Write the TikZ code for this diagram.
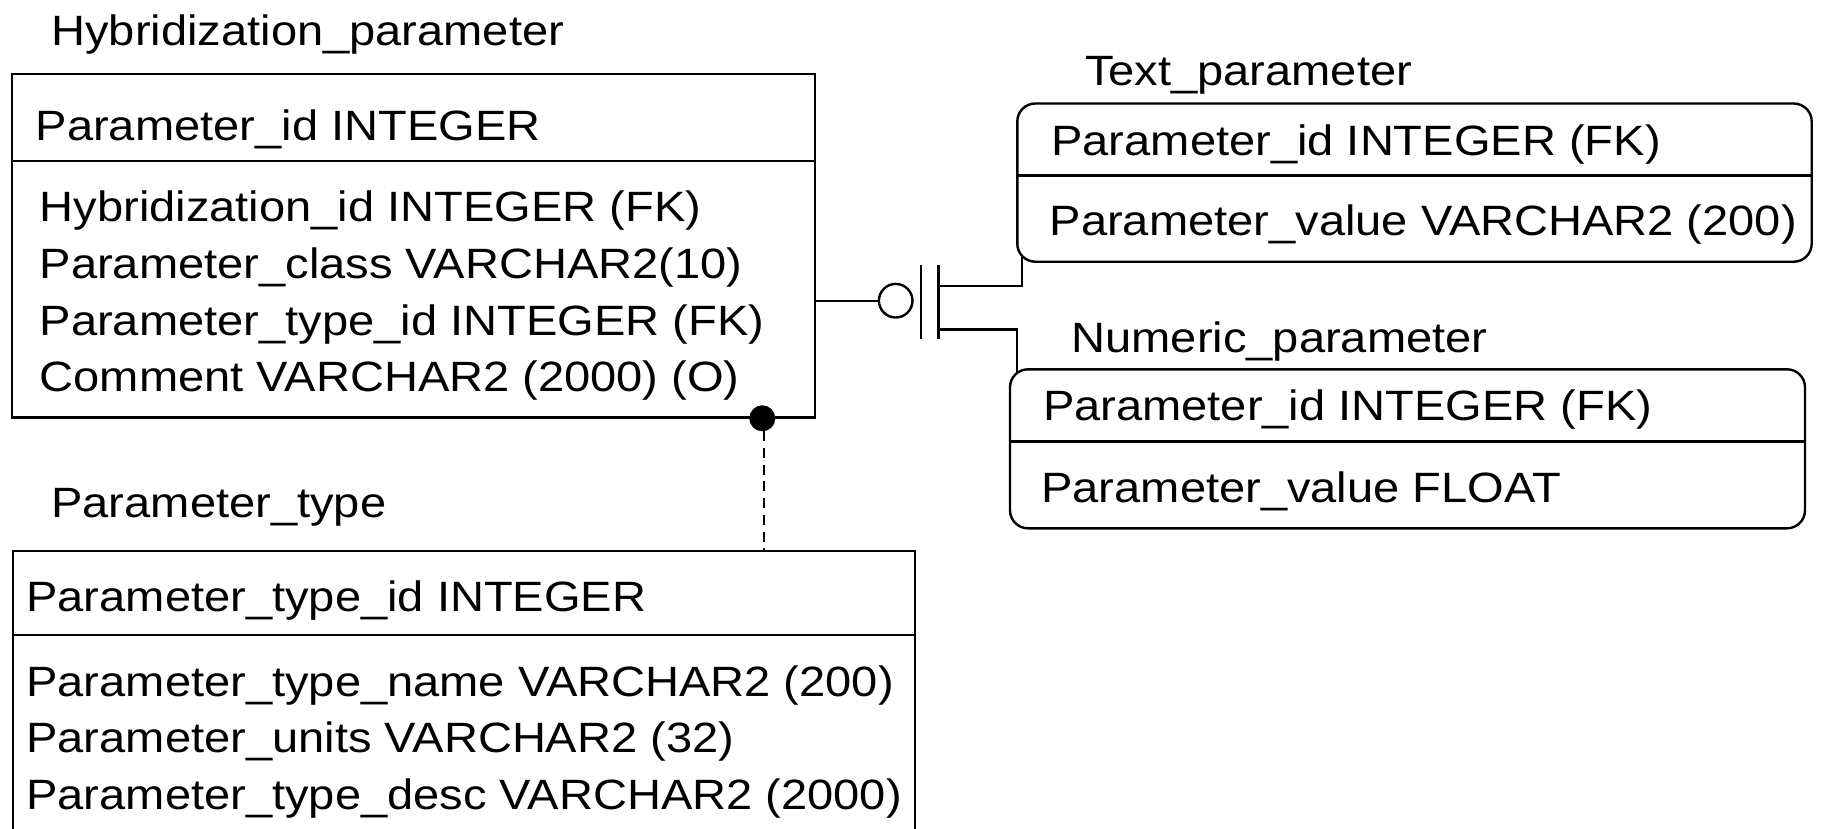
\documentclass[tikz,border=0pt]{standalone}
\usepackage{fontspec}
\setmainfont[FakeStretch=1.11]{Liberation Sans}
\begin{document}
\begin{tikzpicture}[x=1pt,y=-1pt,
  every node/.style={inner sep=0pt,outer sep=0pt},
  lbl/.style={anchor=base west,font=\fontsize{42.4}{50}\selectfont},
  entbox/.style={draw,line width=2.4pt,rectangle,anchor=north west},
  roundbox/.style={entbox,rounded corners=18pt},
  conn/.style={line width=2.4pt},
  dashconn/.style={line width=2.4pt,dash pattern=on 10pt off 6.7pt}]
\useasboundingbox (0,0) rectangle (1821,828);
\clip (0,0) rectangle (1821,828);
% Hybridization_parameter
\node[entbox,minimum width=803.3pt,minimum height=343.5pt] (hyb) at (11.7,74) {};
\draw[conn] (hyb.west |- 0,161) -- (hyb.east |- 0,161);
\node[lbl] (hybt) at (51.4,45) {Hybridization\_parameter};
\node[lbl] (hyb0) at (35.7,140) {Parameter\_id INTEGER};
\node[lbl] (hyb1) at (39.7,221.7) {Hybridization\_id INTEGER (FK)};
\node[lbl] (hyb2) at (39.7,278.3) {Parameter\_class VARCHAR2(10)};
\node[lbl] (hyb3) at (39.7,335) {Parameter\_type\_id INTEGER (FK)};
\node[lbl] (hyb4) at (39.7,391.7) {Comment VARCHAR2 (2000) (O)};
% Parameter_type
\node[entbox,minimum width=902.3pt,minimum height=400pt] (pt) at (12.7,550.7) {};
\draw[conn] (pt.west |- 0,635) -- (pt.east |- 0,635);
\node[lbl] (ptt) at (51.4,517.3) {Parameter\_type};
\node[lbl] (pt0) at (26.4,611) {Parameter\_type\_id INTEGER};
\node[lbl] (pt1) at (26.4,696) {Parameter\_type\_name VARCHAR2 (200)};
\node[lbl] (pt2) at (26.4,752.5) {Parameter\_units VARCHAR2 (32)};
\node[lbl] (pt3) at (26.4,809) {Parameter\_type\_desc VARCHAR2 (2000)};
% Text_parameter
\node[roundbox,minimum width=794.4pt,minimum height=158.2pt] (txt) at (1017.3,103.5) {};
\draw[conn] (txt.west |- 0,175.5) -- (txt.east |- 0,175.5);
\node[lbl] (txtt) at (1085,85) {Text\_parameter};
\node[lbl] (txt0) at (1051.4,155) {Parameter\_id INTEGER (FK)};
\node[lbl] (txt1) at (1049.7,235) {Parameter\_value VARCHAR2 (200)};
% Numeric_parameter
\node[roundbox,minimum width=795pt,minimum height=159pt] (num) at (1010,369.3) {};
\draw[conn] (num.west |- 0,441.5) -- (num.east |- 0,441.5);
\node[lbl] (numt) at (1071.5,352) {Numeric\_parameter};
\node[lbl] (num0) at (1043,420) {Parameter\_id INTEGER (FK)};
\node[lbl] (num1) at (1041.4,502) {Parameter\_value FLOAT};
% subtype connector
\node[draw,circle,line width=2.4pt,minimum size=33.6pt] (opt) at (895.7,300.7) {};
\coordinate (b1t) at (921,265);
\coordinate (b1b) at (921,339.3);
\coordinate (b2t) at (938.3,265);
\coordinate (b2b) at (938.3,339.3);
\coordinate (up) at (1021.7,256.7);
\coordinate (dn) at (1017,373);
\draw[conn] (hyb.east |- opt.west) -- (opt.west);
\draw[conn] (b1t) -- (b1b);
\draw[conn] (b2t) -- (b2b);
\draw[conn] (b2t |- 0,285.7) -| (up);
\draw[conn] (b2t |- 0,329.5) -| (dn);
% relationship to Parameter_type
\node[fill,circle,minimum size=26pt] (dot) at (762.3,418.3) {};
\draw[dashconn] (dot.south -| 764,0) -- (pt.north -| 764,0);
\end{tikzpicture}
\end{document}
